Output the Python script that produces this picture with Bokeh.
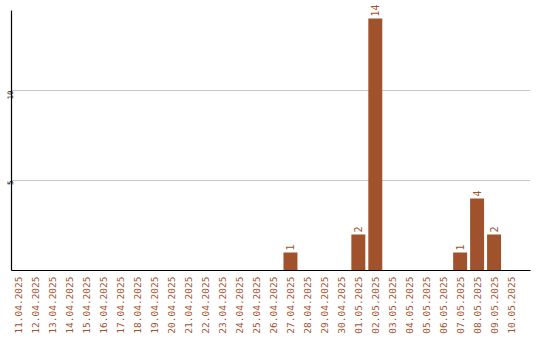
import math
from bokeh.plotting import figure
from bokeh.models import ColumnDataSource, FixedTicker, Range1d
from bokeh.core.properties import value
from bokeh.embed import file_html
from bokeh.resources import INLINE

# Daily counts per date
dates = [
    "11.04.2025", "12.04.2025", "13.04.2025", "14.04.2025", "15.04.2025",
    "16.04.2025", "17.04.2025", "18.04.2025", "19.04.2025", "20.04.2025",
    "21.04.2025", "22.04.2025", "23.04.2025", "24.04.2025", "25.04.2025",
    "26.04.2025", "27.04.2025", "28.04.2025", "29.04.2025", "30.04.2025",
    "01.05.2025", "02.05.2025", "03.05.2025", "04.05.2025", "05.05.2025",
    "06.05.2025", "07.05.2025", "08.05.2025", "09.05.2025", "10.05.2025",
]
counts = [
    0, 0, 0, 0, 0, 0, 0, 0, 0, 0,
    0, 0, 0, 0, 0, 0, 1, 0, 0, 0,
    2, 14, 0, 0, 0, 0, 1, 4, 2, 0,
]
y_ticks = [5, 10]

BAR = "#A0522D"
FONT = "DejaVu Sans Mono"

xs = list(range(len(dates)))
src = ColumnDataSource(dict(x=xs, top=counts))
lbl = ColumnDataSource(dict(
    x=[x for x, c in zip(xs, counts) if c > 0],
    y=[c for c in counts if c > 0],
    t=[str(c) for c in counts if c > 0],
))

# frame reaches the top edge so the tallest value label has room;
# the y axis line itself stops a little below
p = figure(
    width=540, height=340,
    output_backend="svg", toolbar_location=None,
    x_range=Range1d(-0.441, 30.147), y_range=Range1d(0, 15.0),
    min_border_left=0, min_border_right=10, min_border_top=0, min_border_bottom=70,
)
p.outline_line_color = None
p.background_fill_color = "white"
p.border_fill_color = "white"

p.vbar(x="x", top="top", bottom=0, width=0.8235, source=src,
       fill_color=BAR, line_color=None)

# value labels above the bars, reading upward
p.text(x="x", y="y", text="t", source=lbl, angle=math.pi / 2, y_offset=-2,
       text_align="left", text_baseline="middle",
       text_font=value(FONT), text_font_size="10px", text_color=BAR)

# x axis: one tick per date, labels running upward
p.xaxis.ticker = FixedTicker(ticks=xs)
p.xaxis.major_label_overrides = {i: d for i, d in enumerate(dates)}
p.xaxis.major_label_orientation = math.pi / 2
p.xaxis.major_label_text_font = FONT
p.xaxis.major_label_text_font_size = "9.5px"
p.xaxis.major_label_text_color = BAR
p.xaxis.major_label_standoff = 6
p.xaxis.major_tick_out = 0
p.xaxis.major_tick_in = 0
p.xaxis.minor_tick_out = 0
p.xaxis.minor_tick_in = 0
p.xaxis.major_tick_line_color = None
p.xaxis.minor_tick_line_color = None
p.xaxis.axis_line_color = "black"
p.xaxis.axis_line_width = 1.2

# y axis: small rotated labels at 5 and 10
p.yaxis.ticker = FixedTicker(ticks=y_ticks)
p.yaxis.bounds = (0, 14.44)
p.yaxis.major_label_orientation = math.pi / 2
p.yaxis.major_label_text_font = FONT
p.yaxis.major_label_text_font_size = "7.5px"
p.yaxis.major_label_text_color = "black"
p.yaxis.major_label_standoff = 2
p.yaxis.major_tick_out = 0
p.yaxis.major_tick_in = 0
p.yaxis.minor_tick_out = 0
p.yaxis.minor_tick_in = 0
p.yaxis.major_tick_line_color = None
p.yaxis.minor_tick_line_color = None
p.yaxis.axis_line_color = "black"
p.yaxis.axis_line_width = 1.2

p.xgrid.grid_line_color = None
p.ygrid.ticker = FixedTicker(ticks=y_ticks)
p.ygrid.grid_line_color = "#c8c8c8"
p.ygrid.grid_line_width = 1

open("out.html", "w").write(file_html(p, INLINE))
